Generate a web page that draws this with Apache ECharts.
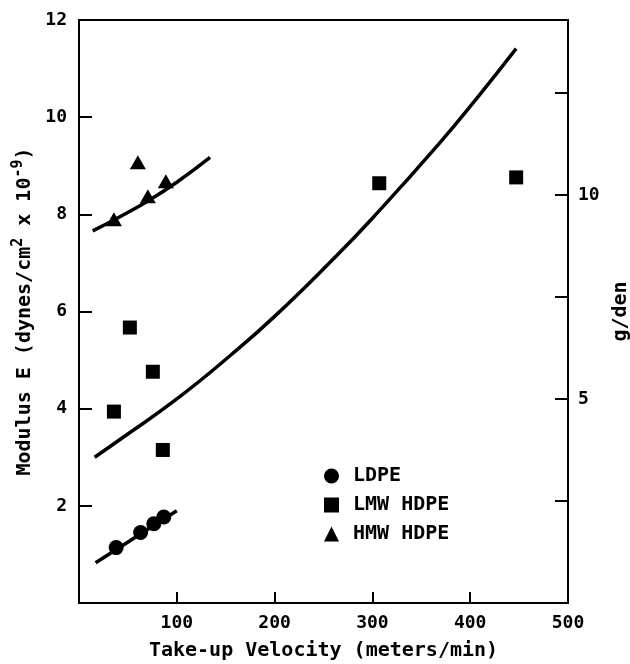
<!DOCTYPE html>
<html>
<head>
<meta charset="utf-8">
<script src="https://cdn.jsdelivr.net/npm/echarts@6/dist/echarts.min.js"></script>
<style>
html, body { margin: 0; padding: 0; background: #fff; }
#chart { width: 630px; height: 664px; }
</style>
</head>
<body>
<div id="chart"></div>
<script>
// measured points (velocity in m/min, modulus in dynes/cm2 x 1e-9)
const ldpeVel = [38, 63, 76.5, 86.7];
const ldpeMod = [1.14, 1.45, 1.63, 1.77];
const lmwVel = [35.7, 52, 75.5, 85.7, 307, 447];
const lmwMod = [3.94, 5.67, 4.76, 3.15, 8.64, 8.76];
const hmwVel = [35.7, 60.2, 70.4, 88.8];
const hmwMod = [7.9, 9.07, 8.37, 8.68];

// drawn curves
const ldpeFitVel = [17, 100];
const ldpeFitMod = [0.83, 1.9];
const lmwFitVel = [16, 43, 100, 155, 200, 260, 300, 368, 410, 447];
const lmwFitMod = [3.0, 3.38, 4.2, 5.1, 5.9, 7.08, 7.92, 9.45, 10.47, 11.41];
const hmwFitVel = [14, 40, 70, 100, 134];
const hmwFitMod = [7.66, 7.93, 8.27, 8.66, 9.17];

const xTicks = [100, 200, 300, 400, 500];
const leftTicks = [2, 4, 6, 8, 10, 12];
const rightTicks = [5, 10];

const names = ['LDPE', 'LMW HDPE', 'HMW HDPE'];

function pairs(xs, ys) {
    return xs.map((x, i) => [x, ys[i]]);
}

const font = 'DejaVu Sans Mono';
const black = '#000';

const chart = echarts.init(document.getElementById('chart'));

const axisCommon = {
    axisLine: { show: true, lineStyle: { color: black, width: 2 } },
    axisTick: { show: true, inside: true, length: 13, lineStyle: { color: black, width: 2 } },
    splitLine: { show: false },
    axisLabel: { color: black, fontFamily: font, fontSize: 18, fontWeight: 'bold' },
    nameTextStyle: { color: black, fontFamily: font, fontSize: 20, fontWeight: 'bold' }
};

chart.setOption({
    animation: false,
    backgroundColor: '#fff',
    grid: {
        left: 79, right: 62, top: 20, bottom: 61,
        outerBoundsMode: 'none',
        show: true, borderColor: black, borderWidth: 2
    },
    legend: {
        data: names.map((n, i) => ({ name: n, icon: ['circle', 'rect', 'triangle'][i] })),
        orient: 'vertical',
        left: 319, top: 461,
        itemWidth: 15, itemHeight: 15, itemGap: 9,
        textStyle: { color: black, fontFamily: font, fontSize: 20, fontWeight: 'bold', padding: [0, 0, 0, 9] }
    },
    xAxis: Object.assign({}, axisCommon, {
        type: 'value', min: 0, max: 500, interval: 100,
        name: 'Take-up Velocity (meters/min)',
        nameLocation: 'middle', nameGap: 38,
        axisTick: { show: true, inside: true, length: 11, lineStyle: { color: black, width: 2 } },
        axisLabel: Object.assign({}, axisCommon.axisLabel, {
            margin: 11,
            formatter: v => xTicks.includes(v) ? String(v) : ''
        })
    }),
    yAxis: [
        Object.assign({}, axisCommon, {
            type: 'value', min: 0, max: 12, interval: 2, position: 'left',
            name: 'Modulus E (dynes/cm{sup|2} x 10{sup|-9})',
            nameLocation: 'middle', nameGap: 36,
            nameTextStyle: Object.assign({}, axisCommon.nameTextStyle, {
                rich: {
                    sup: { fontFamily: font, fontSize: 15, fontWeight: 'bold', color: black, verticalAlign: 'top', lineHeight: 28 }
                }
            }),
            axisLabel: Object.assign({}, axisCommon.axisLabel, {
                margin: 12,
                formatter: v => leftTicks.includes(v) ? String(v) : ''
            })
        }),
        Object.assign({}, axisCommon, {
            type: 'value', min: 0, max: 14.29, interval: 2.5, position: 'right',
            name: 'g/den',
            nameLocation: 'middle', nameGap: 40,
            axisLabel: Object.assign({}, axisCommon.axisLabel, {
                margin: 10,
                formatter: v => rightTicks.includes(v) ? String(v) : ''
            })
        })
    ],
    series: [
        {
            name: 'LDPE fit', type: 'line', data: pairs(ldpeFitVel, ldpeFitMod),
            showSymbol: false, lineStyle: { color: black, width: 3.5 }, silent: true
        },
        {
            name: 'LMW fit', type: 'line', data: pairs(lmwFitVel, lmwFitMod), smooth: true,
            showSymbol: false, lineStyle: { color: black, width: 3.5 }, silent: true
        },
        {
            name: 'HMW fit', type: 'line', data: pairs(hmwFitVel, hmwFitMod), smooth: true,
            showSymbol: false, lineStyle: { color: black, width: 3.5 }, silent: true
        },
        {
            name: 'LDPE', type: 'scatter', data: pairs(ldpeVel, ldpeMod),
            symbol: 'circle', symbolSize: 15, itemStyle: { color: black, opacity: 1 }
        },
        {
            name: 'LMW HDPE', type: 'scatter', data: pairs(lmwVel, lmwMod),
            symbol: 'rect', symbolSize: 14, itemStyle: { color: black, opacity: 1 }
        },
        {
            name: 'HMW HDPE', type: 'scatter', data: pairs(hmwVel, hmwMod),
            symbol: 'triangle', symbolSize: [16, 14], itemStyle: { color: black, opacity: 1 }
        }
    ]
});
</script>
</body>
</html>
